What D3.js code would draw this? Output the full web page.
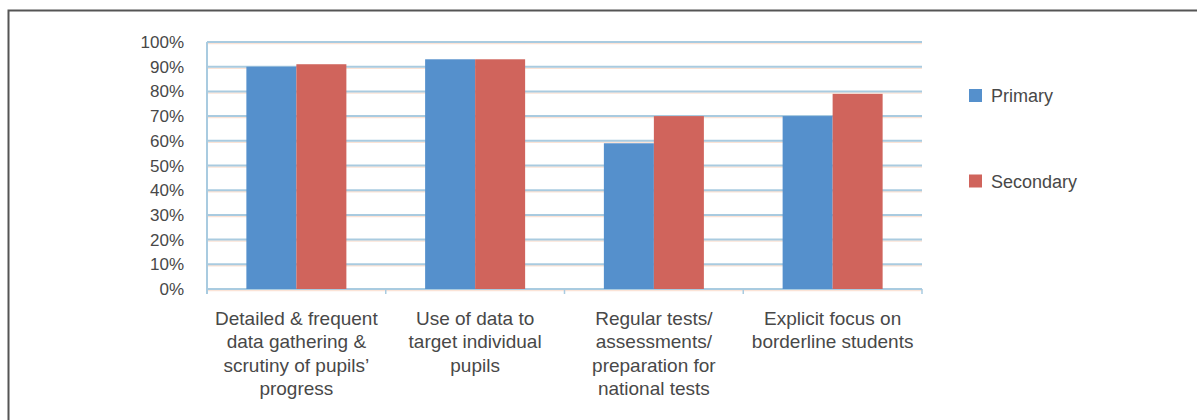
<!DOCTYPE html>
<html>
<head>
<meta charset="utf-8">
<script src="https://cdn.jsdelivr.net/npm/d3@7"></script>
<style>
  body { margin: 0; background: #fff; }
  svg { display: block; }
  text { font-family: "Liberation Sans", Arial, sans-serif; fill: #484848; }
</style>
</head>
<body>
<svg id="chart" width="1197" height="420"></svg>
<script>
const categories = [
  ['Detailed & frequent', 'data gathering &', 'scrutiny of pupils\u2019', 'progress'],
  ['Use of data to', 'target individual', 'pupils'],
  ['Regular tests/', 'assessments/', 'preparation for', 'national tests'],
  ['Explicit focus on', 'borderline students']
];
const seriesNames = ['Primary', 'Secondary'];
const primary = [90, 93, 59, 70];
const secondary = [91, 93, 70, 79];
const yTicks = [0, 10, 20, 30, 40, 50, 60, 70, 80, 90, 100];

const colors = ['#5590cc', '#d0645c'];
const svg = d3.select('#chart');

// outer frame
svg.append('path')
  .attr('d', 'M8.5,420 L8.5,10.5 L1197,10.5')
  .attr('fill', 'none')
  .attr('stroke', '#555')
  .attr('stroke-width', 2);

const plotLeft = 207, plotRight = 922, plotTop = 42, plotBottom = 289;

const x = d3.scaleBand().domain(d3.range(categories.length)).range([plotLeft, plotRight]);
const xs = d3.scaleBand().domain(seriesNames).range([0, 100]);
const y = d3.scaleLinear().domain([0, 100]).range([plotBottom, plotTop]);

// gridlines
const grid = svg.append('g');
grid.append('g').selectAll('line')
  .data(yTicks)
  .join('line')
  .attr('x1', plotLeft).attr('x2', plotRight)
  .attr('y1', d => y(d) + 1.5).attr('y2', d => y(d) + 1.5)
  .attr('stroke', '#fbe3d6').attr('stroke-width', 1.5);
grid.append('g').selectAll('line')
  .data(yTicks)
  .join('line')
  .attr('x1', plotLeft).attr('x2', plotRight)
  .attr('y1', d => y(d)).attr('y2', d => y(d))
  .attr('stroke', '#a9cbe0').attr('stroke-width', 2);

// y axis line
svg.append('line')
  .attr('x1', plotLeft).attr('x2', plotLeft)
  .attr('y1', plotTop).attr('y2', plotBottom + 5)
  .attr('stroke', '#a9cbe0').attr('stroke-width', 2);

// category tick marks
svg.append('g').selectAll('line')
  .data(d3.range(categories.length + 1))
  .join('line')
  .attr('x1', i => plotLeft + i * x.step()).attr('x2', i => plotLeft + i * x.step())
  .attr('y1', plotBottom).attr('y2', plotBottom + 5)
  .attr('stroke', '#a9cbe0').attr('stroke-width', 1.5);

// y tick labels
svg.append('g').selectAll('text')
  .data(yTicks)
  .join('text')
  .attr('x', 184)
  .attr('y', d => y(d) + 6)
  .attr('text-anchor', 'end')
  .attr('font-size', 17)
  .text(d => d + '%');

// bars
const series = [primary, secondary];
series.forEach((vals, si) => {
  svg.append('g').selectAll('rect')
    .data(vals)
    .join('rect')
    .attr('x', (d, i) => x(i) + x.bandwidth() / 2 - 50 + xs(seriesNames[si]))
    .attr('width', xs.bandwidth())
    .attr('y', d => y(d))
    .attr('height', d => y(0) - y(d))
    .attr('fill', colors[si]);
});

// category labels
const lab = svg.append('g').selectAll('text')
  .data(categories)
  .join('text')
  .attr('x', (d, i) => x(i) + x.bandwidth() / 2)
  .attr('y', 325)
  .attr('text-anchor', 'middle')
  .attr('font-size', 19);
lab.selectAll('tspan')
  .data(d => d)
  .join('tspan')
  .attr('x', function () { return this.parentNode.getAttribute('x'); })
  .attr('dy', (d, i) => i === 0 ? 0 : 23.3)
  .text(d => d);

// legend
const legY = [95.5, 181];
const leg = svg.append('g').selectAll('g')
  .data(seriesNames)
  .join('g')
  .attr('transform', (d, i) => `translate(969,${legY[i]})`);
leg.append('rect')
  .attr('x', 0).attr('y', -6.5)
  .attr('width', 13).attr('height', 13)
  .attr('fill', (d, i) => colors[i]);
leg.append('text')
  .attr('x', 22).attr('y', 6.5)
  .attr('font-size', 18)
  .text(d => d);
</script>
</body>
</html>
